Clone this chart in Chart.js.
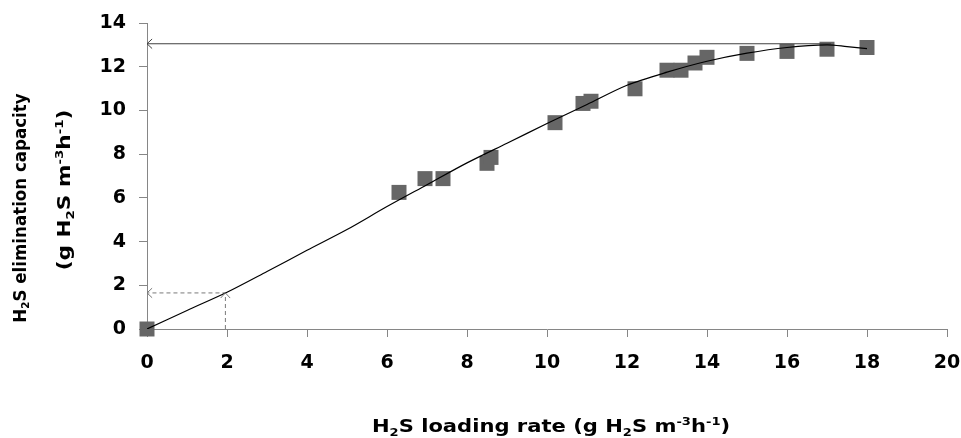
<!DOCTYPE html>
<html>
<head>
<meta charset="utf-8">
<script src="https://cdn.jsdelivr.net/npm/chart.js@4.4.1/dist/chart.umd.min.js"></script>
<style>
  html, body { margin: 0; padding: 0; background: #fff; }
  canvas { display: block; }
</style>
</head>
<body>
<canvas id="chart" width="961" height="438"></canvas>
<script>
// measured points: H2S loading rate vs elimination capacity
const loadingRate = [0, 6.3, 6.95, 7.4, 8.5, 8.6, 10.2, 10.9, 11.1, 12.2, 13.0, 13.35, 13.7, 14.0, 15.0, 16.0, 17.0, 18.0];
const elimCapacity = [0, 6.25, 6.88, 6.88, 7.58, 7.85, 9.44, 10.32, 10.42, 10.99, 11.84, 11.84, 12.17, 12.43, 12.61, 12.70, 12.80, 12.88];

// fitted curve
const fitX = [0, 1, 2, 3, 4, 5, 6, 7, 8, 9, 10, 11, 12, 13, 14, 15, 16, 17, 17.5, 18];
const fitY = [0, 0.85, 1.68, 2.63, 3.6, 4.55, 5.6, 6.6, 7.6, 8.5, 9.4, 10.27, 11.15, 11.75, 12.25, 12.62, 12.88, 13.0, 12.92, 12.83];

// guide lines (max EC, and EC at 2 g/m3/h)
const maxLineX = [17.1, 0];
const maxLineY = [13.05, 13.05];
const guideX = [1.96, 1.96, 0];
const guideY = [0, 1.65, 1.65];

const xTicks = [0, 2, 4, 6, 8, 10, 12, 14, 16, 18, 20];
const yTicks = [0, 2, 4, 6, 8, 10, 12, 14];

const axisGray = "#868686";
const tickFont = { family: "'DejaVu Sans', sans-serif", size: 19, weight: "bold" };

function pts(xs, ys) {
    return xs.map((x, i) => ({ x: x, y: ys[i] }));
}

// draws text with subscripts / superscripts
function drawRich(ctx, parts, size, stretch, x, y, angle) {
    const fam = "'DejaVu Sans', sans-serif";
    const small = size * 0.62;
    let width = 0;
    parts.forEach(p => {
        ctx.font = "bold " + (p.s ? small : size) + "px " + fam;
        p.w = ctx.measureText(p.t).width;
        width += p.w;
    });
    ctx.save();
    ctx.translate(x, y);
    ctx.rotate(angle);
    ctx.scale(stretch, 1);
    ctx.fillStyle = "#000";
    ctx.textBaseline = "alphabetic";
    ctx.textAlign = "left";
    let cx = -width / 2;
    parts.forEach(p => {
        ctx.font = "bold " + (p.s ? small : size) + "px " + fam;
        let dy = 0;
        if (p.s === "sub") dy = size * 0.22;
        if (p.s === "sup") dy = -size * 0.42;
        ctx.fillText(p.t, cx, dy);
        cx += p.w;
    });
    ctx.restore();
}

const xTitle = [{ t: "H" }, { t: "2", s: "sub" }, { t: "S loading rate (g H" }, { t: "2", s: "sub" },
    { t: "S m" }, { t: "-3", s: "sup" }, { t: "h" }, { t: "-1", s: "sup" }, { t: ")" }];
const yTitle1 = [{ t: "H" }, { t: "2", s: "sub" }, { t: "S elimination capacity" }];
const yTitle2 = [{ t: "(g H" }, { t: "2", s: "sub" }, { t: "S m" }, { t: "-3", s: "sup" },
    { t: "h" }, { t: "-1", s: "sup" }, { t: ")" }];

const titlePlugin = {
    id: "titles",
    afterDraw(chart) {
        const ctx = chart.ctx;
        const a = chart.chartArea;
        const midX = (a.left + a.right) / 2;
        const midY = (a.top + a.bottom) / 2;
        drawRich(ctx, xTitle, 17, 1.24, midX + 4, 432, 0);
        drawRich(ctx, yTitle1, 17, 0.98, 25.5, midY + 32, -Math.PI / 2);
        drawRich(ctx, yTitle2, 17, 1.27, 70, midY + 14, -Math.PI / 2);
    }
};

// open arrow heads on guide lines
const arrowPlugin = {
    id: "arrows",
    afterDatasetsDraw(chart) {
        const ctx = chart.ctx;
        chart.data.datasets.forEach((ds, di) => {
            if (!ds.arrowAt) return;
            const meta = chart.getDatasetMeta(di);
            ds.arrowAt.forEach(idx => {
                const p = meta.data[idx];
                const q = meta.data[idx - 1];
                const ang = Math.atan2(p.y - q.y, p.x - q.x);
                const len = 7;
                ctx.save();
                ctx.strokeStyle = ds.borderColor;
                ctx.lineWidth = 1;
                ctx.setLineDash([]);
                ctx.beginPath();
                ctx.moveTo(p.x - len * Math.cos(ang - 0.75), p.y - len * Math.sin(ang - 0.75));
                ctx.lineTo(p.x, p.y);
                ctx.lineTo(p.x - len * Math.cos(ang + 0.75), p.y - len * Math.sin(ang + 0.75));
                ctx.stroke();
                ctx.restore();
            });
        });
    }
};

new Chart(document.getElementById("chart"), {
    type: "scatter",
    data: {
        datasets: [
            {
                data: pts(fitX, fitY),
                showLine: true,
                borderColor: "#000",
                borderWidth: 1.2,
                pointRadius: 0,
                tension: 0.3
            },
            {
                data: pts(maxLineX, maxLineY),
                showLine: true,
                borderColor: "#404040",
                borderWidth: 1,
                pointRadius: 0,
                arrowAt: [1]
            },
            {
                data: pts(guideX, guideY),
                showLine: true,
                borderColor: "#7a7a7a",
                borderWidth: 1,
                borderDash: [4, 3],
                pointRadius: 0,
                arrowAt: [1, 2]
            },
            {
                data: pts(loadingRate, elimCapacity),
                pointStyle: "rect",
                pointRadius: 10.6,
                pointBackgroundColor: "#666666",
                pointBorderWidth: 0,
                borderColor: "#666666",
                clip: false
            }
        ]
    },
    options: {
        responsive: false,
        animation: false,
        devicePixelRatio: 1,
        layout: { padding: { top: 23, right: 14, left: 0, bottom: 0 } },
        plugins: { legend: { display: false }, tooltip: { enabled: false } },
        scales: {
            x: {
                type: "linear",
                min: 0,
                max: 20,
                afterBuildTicks: s => { s.ticks = xTicks.map(v => ({ value: v })); },
                afterFit: s => { s.height = 109; s.paddingLeft = 0; s.paddingRight = 0; },
                ticks: { color: "#000", font: tickFont, padding: 15, maxRotation: 0 },
                grid: { drawOnChartArea: false, drawTicks: true, tickLength: 8, color: axisGray },
                border: { display: true, color: axisGray, width: 1 }
            },
            y: {
                type: "linear",
                min: 0,
                max: 14,
                afterBuildTicks: s => { s.ticks = yTicks.map(v => ({ value: v })); },
                afterFit: s => { s.width = 147; s.paddingTop = 0; s.paddingBottom = 0; },
                ticks: { color: "#000", font: tickFont, padding: 13 },
                grid: { drawOnChartArea: false, drawTicks: true, tickLength: 8, color: axisGray },
                border: { display: true, color: axisGray, width: 1 }
            }
        }
    },
    plugins: [titlePlugin, arrowPlugin]
});
</script>
</body>
</html>
